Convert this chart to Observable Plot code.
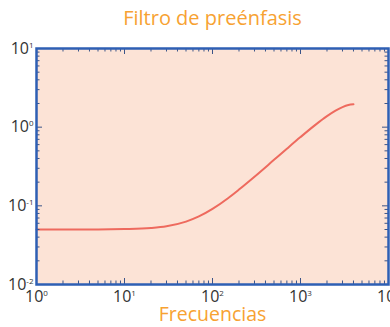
<!DOCTYPE html>
<html><head><meta charset="utf-8">
<script src="https://cdn.jsdelivr.net/npm/d3@7"></script>
<script src="https://cdn.jsdelivr.net/npm/@observablehq/plot@0.6"></script>
<style>body{margin:0;background:#fff;} #chart svg{display:block;}</style>
</head><body><div id="chart"></div>
<script>
const title = "Filtro de preénfasis";
const xLabel = "Frecuencias";
const freq = [1, 2, 5, 10, 20, 30, 50, 70, 100, 150, 200, 300, 500, 700, 1000, 1500, 2000, 2500, 3000, 3500, 4000];
const gain = [0.050, 0.050, 0.050, 0.0506, 0.0523, 0.055, 0.063, 0.0733, 0.0914, 0.125, 0.161, 0.2345, 0.384, 0.532, 0.748, 1.084, 1.379, 1.622, 1.802, 1.913, 1.95];
const xMajor = [1, 10, 100, 1000, 10000];
const yMajor = [0.01, 0.1, 1, 10];
const xExp = ["0", "1", "2", "3", "4"];
const yExp = ["-2", "-1", "0", "1"];

const W = 390, H = 327, mt = 48, mb = 43, ml = 36, mr = 2;
const fh = H - mt - mb, fw = W - ml - mr;
const data = freq.map((f, i) => ({f, g: gain[i]}));
const isDecade = d => Math.abs(Math.log10(d) - Math.round(Math.log10(d))) < 1e-9;
const xMinor = d3.scaleLog().domain([1, 1e4]).ticks().filter(d => !isDecade(d));
const yMinor = d3.scaleLog().domain([0.01, 10]).ticks().filter(d => !isDecade(d));
const findIdx = (arr, d) => arr.findIndex(v => Math.abs(Math.log10(v) - Math.log10(d)) < 1e-9);
const tickColor = "#3b5488";
const majL = 6, minL = 3.5;

const plot = Plot.plot({
  width: W, height: H,
  marginTop: mt, marginBottom: mb, marginLeft: ml, marginRight: mr,
  style: {fontFamily: "'Open Sans', sans-serif", background: "#fff"},
  x: {type: "log", domain: [1, 1e4]},
  y: {type: "log", domain: [0.01, 10]},
  marks: [
    Plot.frame({fill: "#fce3d6", stroke: null}),
    Plot.line(data, {x: "f", y: "g", stroke: "#ee6a5e", strokeWidth: 2, curve: "monotone-x"}),
    Plot.tickX(xMajor, {x: d => d, insetTop: fh - majL, stroke: tickColor}),
    Plot.tickX(xMajor, {x: d => d, insetBottom: fh - majL, stroke: tickColor}),
    Plot.tickX(xMinor, {x: d => d, insetTop: fh - minL, stroke: tickColor}),
    Plot.tickX(xMinor, {x: d => d, insetBottom: fh - minL, stroke: tickColor}),
    Plot.tickY(yMajor, {y: d => d, insetRight: fw - majL, stroke: tickColor}),
    Plot.tickY(yMajor, {y: d => d, insetLeft: fw - majL, stroke: tickColor}),
    Plot.tickY(yMinor, {y: d => d, insetRight: fw - minL, stroke: tickColor}),
    Plot.tickY(yMinor, {y: d => d, insetLeft: fw - minL, stroke: tickColor}),
    Plot.frame({stroke: "#2e5fb4", strokeWidth: 2.5}),
    Plot.axisX(xMajor, {tickSize: 0, tickPadding: 6, fontSize: 16, fill: "#333", tickFormat: d => "10^" + xExp[findIdx(xMajor, d)], label: null}),
    Plot.axisY(yMajor, {tickSize: 0, tickPadding: 3, fontSize: 16, fill: "#333", tickFormat: d => "10^" + yExp[findIdx(yMajor, d)], label: null}),
    Plot.text([title], {frameAnchor: "top", lineAnchor: "middle", dy: -30, fontSize: 20, fontWeight: 500, fill: "#f7a232"}),
    Plot.text([xLabel], {frameAnchor: "bottom", lineAnchor: "middle", dy: 30.5, fontSize: 19.5, fontWeight: 500, fill: "#f7a232"})
  ]
});

d3.select(plot).selectAll('g[aria-label="x-axis tick label"] text, g[aria-label="y-axis tick label"] text').each(function() {
  const t = this.textContent;
  if (!t.includes("^")) return;
  const [b, e] = t.split("^");
  this.textContent = b;
  d3.select(this).append("tspan").attr("dy", "-0.75em").attr("font-size", "0.5em").text(e);
});
document.getElementById("chart").append(plot);
</script>
</body></html>
